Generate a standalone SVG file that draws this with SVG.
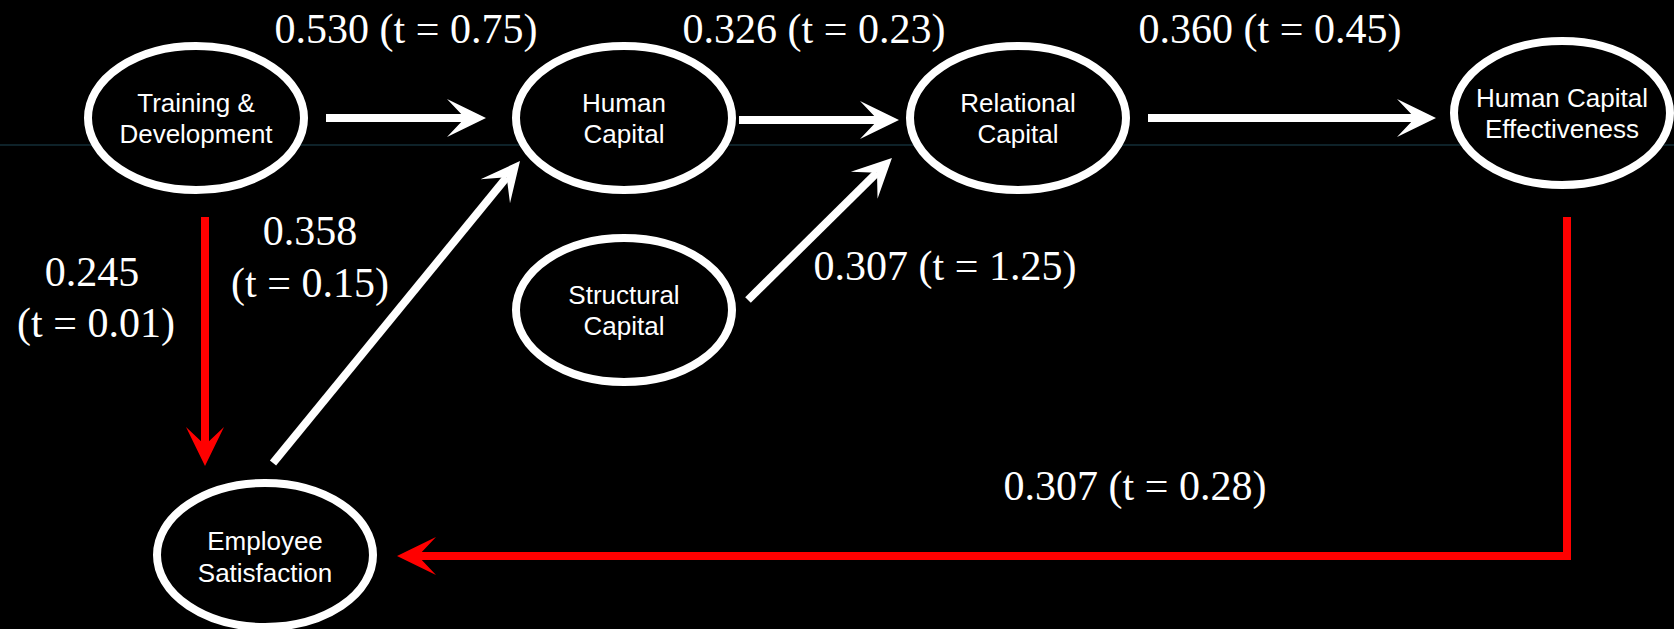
<svg xmlns="http://www.w3.org/2000/svg" width="1674" height="629" viewBox="0 0 1674 629">
  <style>
    .node { fill: #000; stroke: #fff; stroke-width: 8; }
    .nt { font-family: "Liberation Sans", Arial, sans-serif; font-size: 26px; fill: #fff; text-anchor: middle; }
    .lbl { font-family: "Liberation Serif", "Times New Roman", serif; font-size: 42px; fill: #fff; text-anchor: middle; }
    .w { fill: none; stroke: #fff; stroke-width: 8; }
    .r { fill: none; stroke: #ff0000; stroke-width: 8; stroke-linejoin: miter; }
  </style>
  <defs>
    <marker id="aw" markerUnits="userSpaceOnUse" viewBox="-20 -20 42 40" refX="0" refY="0" markerWidth="42" markerHeight="40" orient="auto" overflow="visible">
      <path d="M21,0 L-18,-19 L0,0 L-18,19 Z" fill="#fff"/>
    </marker>
    <marker id="ar" markerUnits="userSpaceOnUse" viewBox="-20 -20 42 40" refX="0" refY="0" markerWidth="42" markerHeight="40" orient="auto" overflow="visible">
      <path d="M21,0 L-18,-19 L0,0 L-18,19 Z" fill="#ff0000"/>
    </marker>
  </defs>
  <rect x="0" y="0" width="1674" height="629" fill="#000"/>
  <line x1="0" y1="145" x2="1674" y2="145" stroke="#1d4452" stroke-width="1"/>

  <g id="connectors">
    <line class="w" x1="326" y1="118" x2="465" y2="118" marker-end="url(#aw)"/>
    <line class="w" x1="739" y1="120" x2="878" y2="120" marker-end="url(#aw)"/>
    <line class="w" x1="1148" y1="118" x2="1415" y2="118" marker-end="url(#aw)"/>
    <line class="w" x1="273" y1="463" x2="506.7" y2="177.3" marker-end="url(#aw)"/>
    <line class="w" x1="748" y1="300" x2="877" y2="172.7" marker-end="url(#aw)"/>
    <line class="r" x1="205" y1="217" x2="205" y2="445" marker-end="url(#ar)"/>
    <path class="r" d="M1567,217 V556 H418" marker-end="url(#ar)"/>
  </g>

  <g id="labels">
    <text class="lbl" x="406" y="43">0.530 (t = 0.75)</text>
    <text class="lbl" x="814" y="43">0.326 (t = 0.23)</text>
    <text class="lbl" x="1270" y="43">0.360 (t = 0.45)</text>
    <text class="lbl" x="310" y="245">0.358</text>
    <text class="lbl" x="310" y="297">(t = 0.15)</text>
    <text class="lbl" x="92" y="286">0.245</text>
    <text class="lbl" x="96" y="337">(t = 0.01)</text>
    <text class="lbl" x="945" y="280">0.307 (t = 1.25)</text>
    <text class="lbl" x="1135" y="500">0.307 (t = 0.28)</text>
  </g>

  <g id="training-development">
    <ellipse class="node" cx="196" cy="118" rx="108" ry="72"/>
    <text class="nt" x="196" y="112">Training &amp;</text>
    <text class="nt" x="196" y="143">Development</text>
  </g>
  <g id="human-capital">
    <ellipse class="node" cx="624" cy="118" rx="108" ry="72"/>
    <text class="nt" x="624" y="112">Human</text>
    <text class="nt" x="624" y="143">Capital</text>
  </g>
  <g id="relational-capital">
    <ellipse class="node" cx="1018" cy="118" rx="108" ry="72"/>
    <text class="nt" x="1018" y="112">Relational</text>
    <text class="nt" x="1018" y="143">Capital</text>
  </g>
  <g id="hc-effectiveness">
    <ellipse class="node" cx="1562" cy="113" rx="108" ry="72"/>
    <text class="nt" x="1562" y="107">Human Capital</text>
    <text class="nt" x="1562" y="138">Effectiveness</text>
  </g>
  <g id="structural-capital">
    <ellipse class="node" cx="624" cy="310" rx="108" ry="72"/>
    <text class="nt" x="624" y="304">Structural</text>
    <text class="nt" x="624" y="335">Capital</text>
  </g>
  <g id="employee-satisfaction">
    <ellipse class="node" cx="265" cy="555" rx="108" ry="72"/>
    <text class="nt" x="265" y="550">Employee</text>
    <text class="nt" x="265" y="582">Satisfaction</text>
  </g>
</svg>
